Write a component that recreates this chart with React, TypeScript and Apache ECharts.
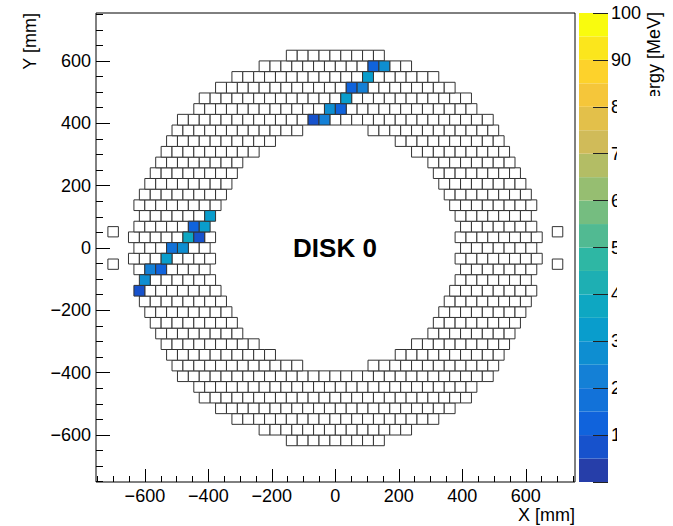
import React, { useEffect, useRef } from "react";
import * as echarts from "echarts";

// Crystal pitch of the calorimeter disk, mm
const PITCH = 34.3;

// For each row |k| = 0..18 (row centre at y = k * PITCH): outer and inner
// crystal edges, in pitches from the disk axis (0 = row without a hole)
const rowOuterEdge = [18.5, 19, 18.5, 18, 18.5, 18, 17.5, 17, 16.5, 16, 15.5, 15, 14.5, 13, 12.5, 11, 9.5, 7, 4.5];
const rowInnerEdge = [11.5, 11, 11.5, 11, 10.5, 10, 9.5, 9, 8.5, 7, 5.5, 3, 0, 0, 0, 0, 0, 0, 0];

// Crystals with deposited energy: row index, column (pitches), energy (MeV)
const hitRow = [17, 17, 16, 15, 15, 14, 13, 13, 12, 12, 3, 2, 2, 1, 1, 0, 0, -1, -2, -2, -3, -4];
const hitCol = [3.5, 4.5, 3, 1.5, 2.5, 1, -0.5, 0.5, -2, -1, -11.5, -13, -12, -13.5, -12.5, -15, -14, -15.5, -17, -16, -17.5, -18];
const hitEnergy = [12, 27, 32, 14, 23, 31, 28, 13, 8, 22, 33, 13, 32, 37, 8, 17, 26, 34, 23, 13, 27, 8];

// Small auxiliary squares left and right of the disk, mm
const auxX = [-700, -700, 700, 700];
const auxY = [52, -52, 52, -52];
const AUX_SIZE = 33;

// Axes
const X_MIN = -754;
const X_MAX = 755;
const Y_MIN = -751;
const Y_MAX = 754;
const xMajorTicks = [-600, -400, -200, 0, 200, 400, 600];
const yMajorTicks = [-600, -400, -200, 0, 200, 400, 600];
const xMinorTicks = [-750, -700, -650, -550, -500, -450, -350, -300, -250, -150, -100, -50, 50, 100, 150, 250, 300, 350, 450, 500, 550, 650, 700, 750];
const yMinorTicks = [-750, -700, -650, -550, -500, -450, -350, -300, -250, -150, -100, -50, 50, 100, 150, 250, 300, 350, 450, 500, 550, 650, 700, 750];

// Energy palette: 20 contour levels between 0 and 100 MeV
const paletteLevels = [0, 5, 10, 15, 20, 25, 30, 35, 40, 45, 50, 55, 60, 65, 70, 75, 80, 85, 90, 95, 100];
const paletteTicks = [0, 10, 20, 30, 40, 50, 60, 70, 80, 90, 100];
const paletteLabels = [10, 20, 30, 40, 50, 60, 70, 80, 90, 100];
const E_MIN = 0;
const E_MAX = 100;

// "Bird" colour map stops
const birdR = [0.2082, 0.0592, 0.078, 0.0232, 0.1802, 0.5301, 0.8186, 0.9956, 0.9764];
const birdG = [0.1664, 0.3599, 0.5041, 0.6419, 0.7178, 0.7492, 0.7328, 0.7862, 0.9832];
const birdB = [0.5293, 0.8684, 0.8385, 0.7914, 0.6425, 0.4662, 0.3499, 0.1968, 0.0539];

function birdColor(f: number): string {
  const n = birdR.length - 1;
  const pos = Math.max(0, Math.min(1, f)) * n;
  const i = Math.min(n - 1, Math.floor(pos));
  const t = pos - i;
  const c = (a: number[]) => Math.round(255 * (a[i] + (a[i + 1] - a[i]) * t));
  return `rgb(${c(birdR)},${c(birdG)},${c(birdB)})`;
}

const nBands = paletteLevels.length - 1;
function bandColor(band: number): string {
  return birdColor((band + 0.99) / nBands);
}
function energyColor(e: number): string {
  let band = 0;
  for (let i = 0; i < nBands; i++) if (e >= paletteLevels[i]) band = i;
  return bandColor(band);
}

const FONT = "'Liberation Sans', Arial, Helvetica, sans-serif";
const minus = (v: number) => (v < 0 ? "\u2212" + Math.abs(v) : String(v));

function buildCrystals(): number[][] {
  const hits = new Map<string, number>();
  hitRow.forEach((r, i) => hits.set(`${r}:${hitCol[i]}`, hitEnergy[i]));
  const empty: number[][] = [];
  const lit: number[][] = [];
  const nRows = rowOuterEdge.length - 1;
  for (let k = -nRows; k <= nRows; k++) {
    const a = Math.abs(k);
    const outer = rowOuterEdge[a];
    const inner = rowInnerEdge[a];
    const shift = a % 2 === 1 ? 0.5 : 0;
    for (let n = -Math.ceil(outer) - 1; n <= Math.ceil(outer) + 1; n++) {
      const c = n + shift;
      const ac = Math.abs(c);
      if (ac + 0.5 > outer + 1e-6) continue;
      if (inner !== 0 && ac - 0.5 < inner - 1e-6) continue;
      const e = hits.get(`${k}:${c}`) ?? 0;
      const item = [c * PITCH, k * PITCH, e];
      (e > 0 ? lit : empty).push(item);
    }
  }
  return empty.concat(lit);
}

export default function App() {
  const ref = useRef<HTMLDivElement>(null);

  useEffect(() => {
    if (!ref.current) return;
    const chart = echarts.init(ref.current, null, { renderer: "svg" });
    const crystals = buildCrystals();
    const aux = auxX.map((x, i) => [x, auxY[i]]);
    const bands = paletteLevels.slice(0, -1).map((lo, i) => [lo, paletteLevels[i + 1], i]);

    const tickLabel = { fontFamily: FONT, fontSize: 18, color: "#000" };
    const tickLine = { color: "#000", width: 1 };

    chart.setOption({
      animation: false,
      backgroundColor: "#fff",
      grid: [
        {
          left: 96,
          top: 13,
          width: 479,
          height: 469,
          show: true,
          borderColor: "#000",
          borderWidth: 1,
          backgroundColor: "transparent",
        },
        { left: 579, top: 13, width: 29, height: 469 },
      ],
      xAxis: [
        {
          type: "value",
          gridIndex: 0,
          position: "bottom",
          min: X_MIN,
          max: X_MAX,
          axisLine: { show: false, onZero: false },
          splitLine: { show: false },
          axisTick: { show: true, inside: true, length: 13, customValues: xMajorTicks, lineStyle: tickLine },
          axisLabel: {
            ...tickLabel,
            margin: 5,
            customValues: xMajorTicks,
            formatter: (v: number) => minus(v),
          },
        },
        {
          type: "value",
          gridIndex: 0,
          position: "bottom",
          min: X_MIN,
          max: X_MAX,
          axisLine: { show: false, onZero: false },
          splitLine: { show: false },
          axisLabel: { show: false },
          axisTick: { show: true, inside: true, length: 6, customValues: xMinorTicks, lineStyle: tickLine },
        },
        { type: "value", gridIndex: 1, min: 0, max: 1, show: false },
      ],
      yAxis: [
        {
          type: "value",
          gridIndex: 0,
          position: "left",
          min: Y_MIN,
          max: Y_MAX,
          axisLine: { show: false, onZero: false },
          splitLine: { show: false },
          axisTick: { show: true, inside: true, length: 14, customValues: yMajorTicks, lineStyle: tickLine },
          axisLabel: {
            ...tickLabel,
            margin: 5,
            customValues: yMajorTicks,
            formatter: (v: number) => minus(v),
          },
        },
        {
          type: "value",
          gridIndex: 0,
          position: "left",
          min: Y_MIN,
          max: Y_MAX,
          axisLine: { show: false, onZero: false },
          splitLine: { show: false },
          axisLabel: { show: false },
          axisTick: { show: true, inside: true, length: 7, customValues: yMinorTicks, lineStyle: tickLine },
        },
        {
          type: "value",
          gridIndex: 1,
          position: "right",
          min: E_MIN,
          max: E_MAX,
          z: 10,
          axisLine: { show: false, onZero: false },
          splitLine: { show: false },
          axisTick: {
            show: true,
            inside: true,
            length: 15,
            customValues: paletteTicks,
            lineStyle: { color: "#222", width: 1 },
          },
          axisLabel: { ...tickLabel, margin: 3, customValues: paletteLabels },
        },
      ],
      series: [
        {
          type: "custom",
          name: "crystals",
          xAxisIndex: 0,
          yAxisIndex: 0,
          silent: true,
          clip: false,
          encode: { x: 0, y: 1 },
          data: crystals,
          renderItem: (params: any, api: any) => {
            const e = api.value(2);
            const c = api.coord([api.value(0), api.value(1)]);
            const s = api.size([PITCH, PITCH]);
            return {
              type: "rect",
              shape: { x: c[0] - s[0] / 2, y: c[1] - s[1] / 2, width: s[0], height: s[1] },
              style: {
                fill: e > 0 ? energyColor(e) : "#fff",
                stroke: "#333",
                lineWidth: 1,
              },
            };
          },
        },
        {
          type: "custom",
          name: "aux",
          xAxisIndex: 0,
          yAxisIndex: 0,
          silent: true,
          clip: false,
          encode: { x: 0, y: 1 },
          data: aux,
          renderItem: (params: any, api: any) => {
            const c = api.coord([api.value(0), api.value(1)]);
            const s = api.size([AUX_SIZE, AUX_SIZE]);
            return {
              type: "rect",
              shape: { x: c[0] - s[0] / 2, y: c[1] - s[1] / 2, width: s[0], height: s[1] },
              style: { fill: "#fff", stroke: "#333", lineWidth: 1 },
            };
          },
        },
        {
          type: "custom",
          name: "palette",
          xAxisIndex: 2,
          yAxisIndex: 2,
          silent: true,
          encode: { y: [0, 1] },
          data: bands,
          renderItem: (params: any, api: any) => {
            const top = api.coord([0, api.value(1)]);
            const bottom = api.coord([1, api.value(0)]);
            return {
              type: "rect",
              shape: { x: top[0], y: top[1], width: bottom[0] - top[0], height: bottom[1] - top[1] },
              style: { fill: bandColor(api.value(2)), stroke: null },
            };
          },
          z: 1,
        },
      ],
      graphic: [
        {
          type: "text",
          x: 335,
          y: 248,
          style: {
            text: "DISK 0",
            font: `bold 26px ${FONT}`,
            fill: "#000",
            textAlign: "center",
            textVerticalAlign: "middle",
          },
          z: 50,
        },
        {
          type: "text",
          x: 575,
          y: 515,
          style: {
            text: "X [mm]",
            font: `18px ${FONT}`,
            fill: "#000",
            textAlign: "right",
            textVerticalAlign: "middle",
          },
        },
        {
          type: "text",
          x: 30,
          y: 13,
          rotation: Math.PI / 2,
          style: {
            text: "Y [mm]",
            font: `18px ${FONT}`,
            fill: "#000",
            textAlign: "right",
            textVerticalAlign: "middle",
          },
        },
        {
          type: "text",
          x: 654,
          y: 12,
          rotation: Math.PI / 2,
          style: {
            text: "Energy [MeV]",
            font: `18px ${FONT}`,
            fill: "#000",
            textAlign: "right",
            textVerticalAlign: "middle",
          },
          z: 10,
        },
        {
          type: "rect",
          shape: { x: 617, y: 96, width: 60, height: 432 },
          style: { fill: "#fff" },
          z: 100,
        },
      ],
    });

    return () => chart.dispose();
  }, []);

  return (
    <div
      ref={ref}
      style={{ position: "fixed", left: 0, top: 0, width: 673, height: 526, background: "#fff" }}
    />
  );
}
